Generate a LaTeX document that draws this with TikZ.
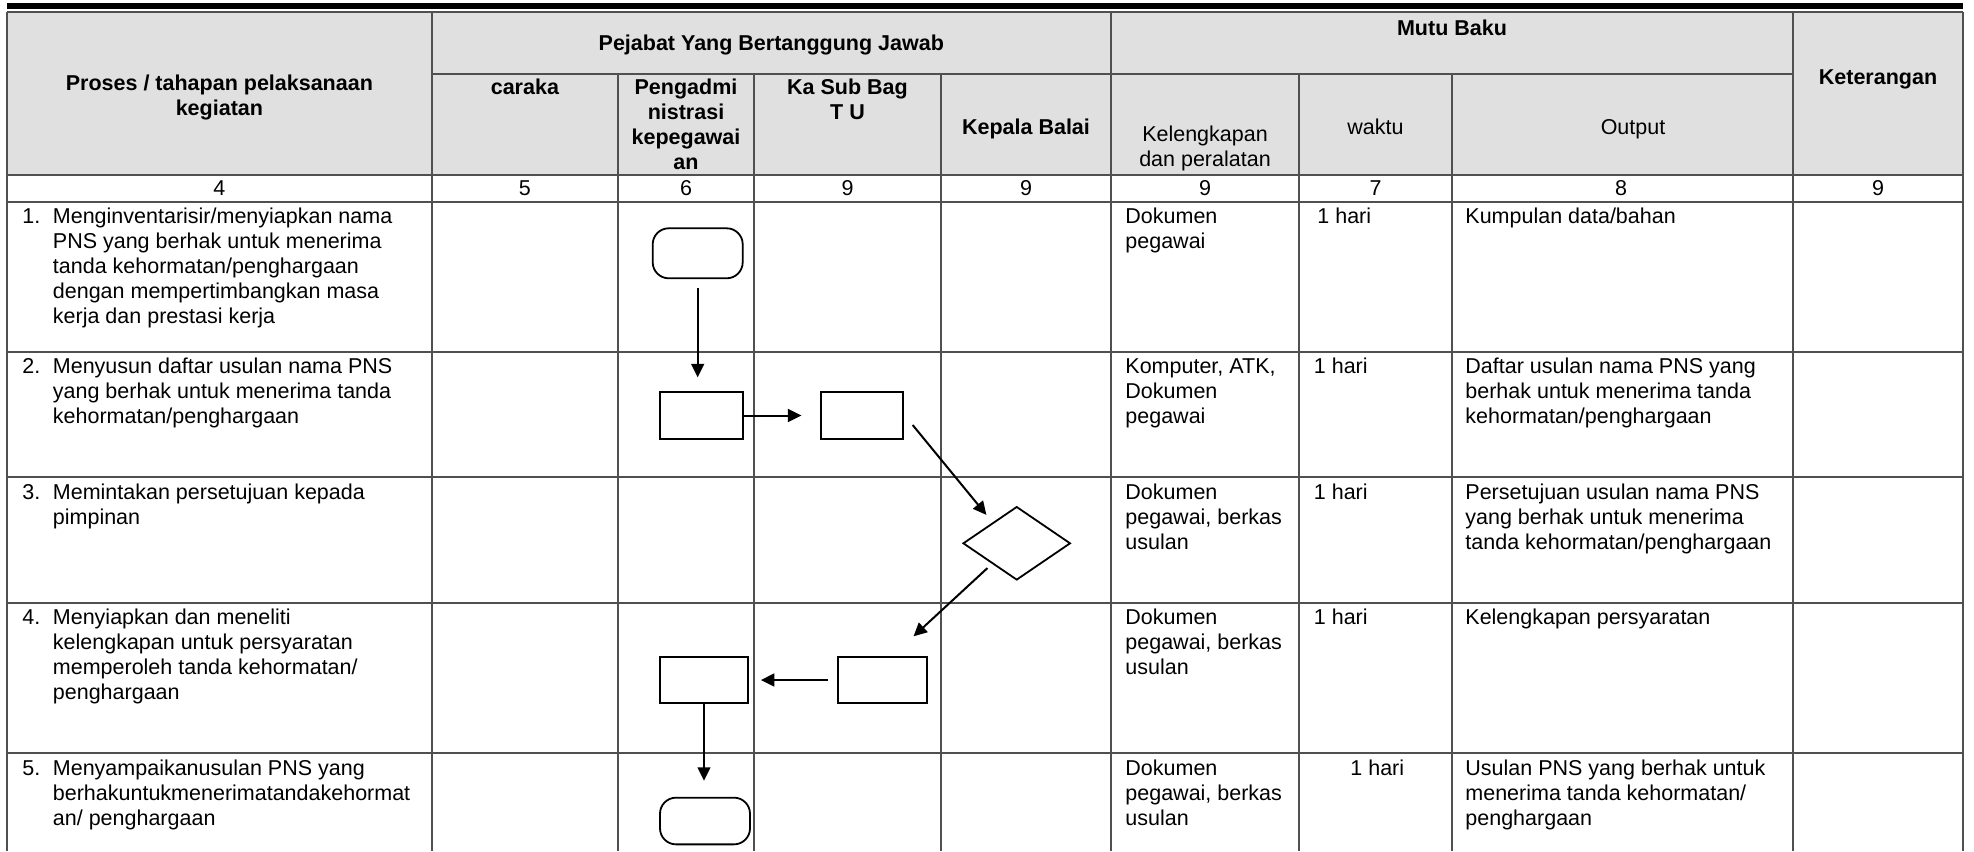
\documentclass[tikz,border=0pt]{standalone}
\usepackage{fontspec}
\setmainfont{Liberation Sans}
\usetikzlibrary{shapes.geometric,arrows.meta}
\definecolor{headgray}{RGB}{224,224,224}
\definecolor{gridgray}{RGB}{80,80,80}

\begin{document}
\begin{tikzpicture}[x=0.5pt,y=-0.5pt,
    cell/.style={inner sep=0pt,anchor=north west,align=left,font=\fontsize{10.75}{12.5}\selectfont},
    headtext/.style={inner sep=0pt,anchor=north,align=center,font=\fontsize{10.75}{12.5}\selectfont\bfseries},
    headplain/.style={inner sep=0pt,anchor=north,align=center,font=\fontsize{10.75}{12.5}\selectfont},
    grid/.style={draw=gridgray,line width=0.9pt},
    procbox/.style={draw,line width=0.9pt,minimum width=41.35pt,minimum height=23.85pt,inner sep=0pt},
    termbox/.style={procbox,rounded corners=8pt,minimum width=45pt},
    decision/.style={draw,diamond,line width=0.9pt,minimum width=53.7pt,minimum height=36.7pt,inner sep=0pt},
    flow/.style={line width=1pt,-{Triangle[length=6.7pt,width=6.4pt]}}]
    \useasboundingbox (0,0) rectangle (1974,851);
    \fill[headgray] (7,11.7) rectangle (1963,175);
    \fill[black] (7,2.7) rectangle (1963,9.3);

    \draw[grid] (7,11.7) -- (1963,11.7) (431.7,74) -- (1793,74)
        (7,175) -- (1963,175) (7,201.7) -- (1963,201.7)
        (7,351.7) -- (1963,351.7) (7,477.3) -- (1963,477.3)
        (7,602.7) -- (1963,602.7) (7,753.3) -- (1963,753.3);
    \draw[grid] (7,11.7) -- (7,851) (431.7,11.7) -- (431.7,851)
        (1111,11.7) -- (1111,851) (1793,11.7) -- (1793,851)
        (1963,11.7) -- (1963,851);
    \draw[grid] (618,74) -- (618,851) (754,74) -- (754,851)
        (941,74) -- (941,851) (1299,74) -- (1299,851)
        (1452,74) -- (1452,851);

    \node[headtext] (hdproses) at (219.4,72.8) {\strut Proses / tahapan pelaksanaan\\kegiatan};
    \node[headtext] (hdpejabat) at (771.3,32.5) {\strut Pejabat Yang Bertanggung Jawab};
    \node[headtext] (hdmutu) at (1452,17.5) {\strut Mutu Baku};
    \node[headtext] (hdket) at (1878,66.2) {\strut Keterangan};
    \node[headtext] (hdcaraka) at (524.9,76.5) {\strut caraka};
    \node[headtext] (hdpeng) at (686,76.5) {\strut Pengadmi\\nistrasi\\kepegawai\\an};
    \node[headtext] (hdkasub) at (847.5,76.5) {\strut Ka Sub Bag\\T U};
    \node[headtext] (hdkepala) at (1026,116.5) {\strut Kepala Balai};
    \node[headplain] (hdalat) at (1205,123.5) {\strut Kelengkapan\\dan peralatan};
    \node[headplain] (hdwaktu) at (1375.5,116.5) {\strut waktu};
    \node[headplain] (hdoutput) at (1633,116.5) {\strut Output};

    \node[headplain] (num1) at (219.4,177.5) {\strut 4};
    \node[headplain] (num2) at (524.9,177.5) {\strut 5};
    \node[headplain] (num3) at (686,177.5) {\strut 6};
    \node[headplain] (num4) at (847.5,177.5) {\strut 9};
    \node[headplain] (num5) at (1026,177.5) {\strut 9};
    \node[headplain] (num6) at (1205,177.5) {\strut 9};
    \node[headplain] (num7) at (1375.5,177.5) {\strut 7};
    \node[headplain] (num8) at (1621,177.5) {\strut 8};
    \node[headplain] (num9) at (1878,177.5) {\strut 9};

    \node[cell] (step1) at (22,205.7) {\begin{tabular}[t]{@{}l@{\hspace{6.3pt}}l@{}}1. & Menginventarisir/menyiapkan nama\\ & PNS yang berhak untuk menerima\\ & tanda kehormatan/penghargaan\\ & dengan mempertimbangkan masa\\ & kerja dan prestasi kerja\end{tabular}};
    \node[cell] (step2) at (22,355.7) {\begin{tabular}[t]{@{}l@{\hspace{6.3pt}}l@{}}2. & Menyusun daftar usulan nama PNS\\ & yang berhak untuk menerima tanda\\ & kehormatan/penghargaan\end{tabular}};
    \node[cell] (step3) at (22,481.3) {\begin{tabular}[t]{@{}l@{\hspace{6.3pt}}l@{}}3. & Memintakan persetujuan kepada\\ & pimpinan\end{tabular}};
    \node[cell] (step4) at (22,606.7) {\begin{tabular}[t]{@{}l@{\hspace{6.3pt}}l@{}}4. & Menyiapkan dan meneliti\\ & kelengkapan untuk persyaratan\\ & memperoleh tanda kehormatan/\\ & penghargaan\end{tabular}};
    \node[cell] (step5) at (22,757.3) {\begin{tabular}[t]{@{}l@{\hspace{6.3pt}}l@{}}5. & Menyampaikanusulan PNS yang\\ & berhakuntukmenerimatandakehormat\\ & an/ penghargaan\end{tabular}};

    \node[cell] (alat1) at (1125,205.7) {\strut Dokumen\\pegawai};
    \node[cell] (alat2) at (1125,355.7) {\strut Komputer, ATK,\\Dokumen\\pegawai};
    \node[cell] (alat3) at (1125,481.3) {\strut Dokumen\\pegawai, berkas\\usulan};
    \node[cell] (alat4) at (1125,606.7) {\strut Dokumen\\pegawai, berkas\\usulan};
    \node[cell] (alat5) at (1125,757.3) {\strut Dokumen\\pegawai, berkas\\usulan};

    \node[cell] (waktu1) at (1317,205.7) {\strut 1 hari};
    \node[cell] (waktu2) at (1313.5,355.7) {\strut 1 hari};
    \node[cell] (waktu3) at (1313.5,481.3) {\strut 1 hari};
    \node[cell] (waktu4) at (1313.5,606.7) {\strut 1 hari};
    \node[cell] (waktu5) at (1350,757.3) {\strut 1 hari};

    \node[cell] (output1) at (1465,205.7) {\strut Kumpulan data/bahan};
    \node[cell] (output2) at (1465,355.7) {\strut Daftar usulan nama PNS yang\\berhak untuk menerima tanda\\kehormatan/penghargaan};
    \node[cell] (output3) at (1465,481.3) {\strut Persetujuan usulan nama PNS\\yang berhak untuk menerima\\tanda kehormatan/penghargaan};
    \node[cell] (output4) at (1465,606.7) {\strut Kelengkapan persyaratan};
    \node[cell] (output5) at (1465,757.3) {\strut Usulan PNS yang berhak untuk\\menerima tanda kehormatan/\\penghargaan};

    \node[termbox,minimum height=25pt] (start) at (697.7,253.3) {};
    \node[procbox] (prep) at (701.3,415.5) {};
    \node[procbox] (check) at (862,415.5) {};
    \node[decision] (approve) at (1016.7,543.3) {};
    \node[procbox,minimum width=44.3pt,minimum height=23.35pt] (verify) at (882.3,680) {};
    \node[procbox,minimum width=44pt,minimum height=23.35pt] (collect) at (704,680) {};
    \node[termbox,minimum height=23.35pt] (finish) at (705,821) {};

    \draw[flow,shorten <=4.5pt,shorten >=6.7pt] (start.south) -- (start.south |- prep.north);
    \draw[flow,shorten >=9.2pt] (prep.east) -- (check.west);
    \draw[flow] ([xshift=4.2pt,yshift=-4.75pt]check.east) -- ([xshift=-1.5pt,yshift=4.8pt]approve.north west);
    \draw[flow] ([xshift=-1pt,yshift=-3pt]approve.south west) -- ([xshift=-7pt,yshift=9.7pt]verify.north east);
    \draw[flow,shorten <=4.35pt,shorten >=6pt] (verify.west) -- (collect.east);
    \draw[flow,shorten >=8pt] (collect.south) -- (collect.south |- finish.north);
\end{tikzpicture}
\end{document}
